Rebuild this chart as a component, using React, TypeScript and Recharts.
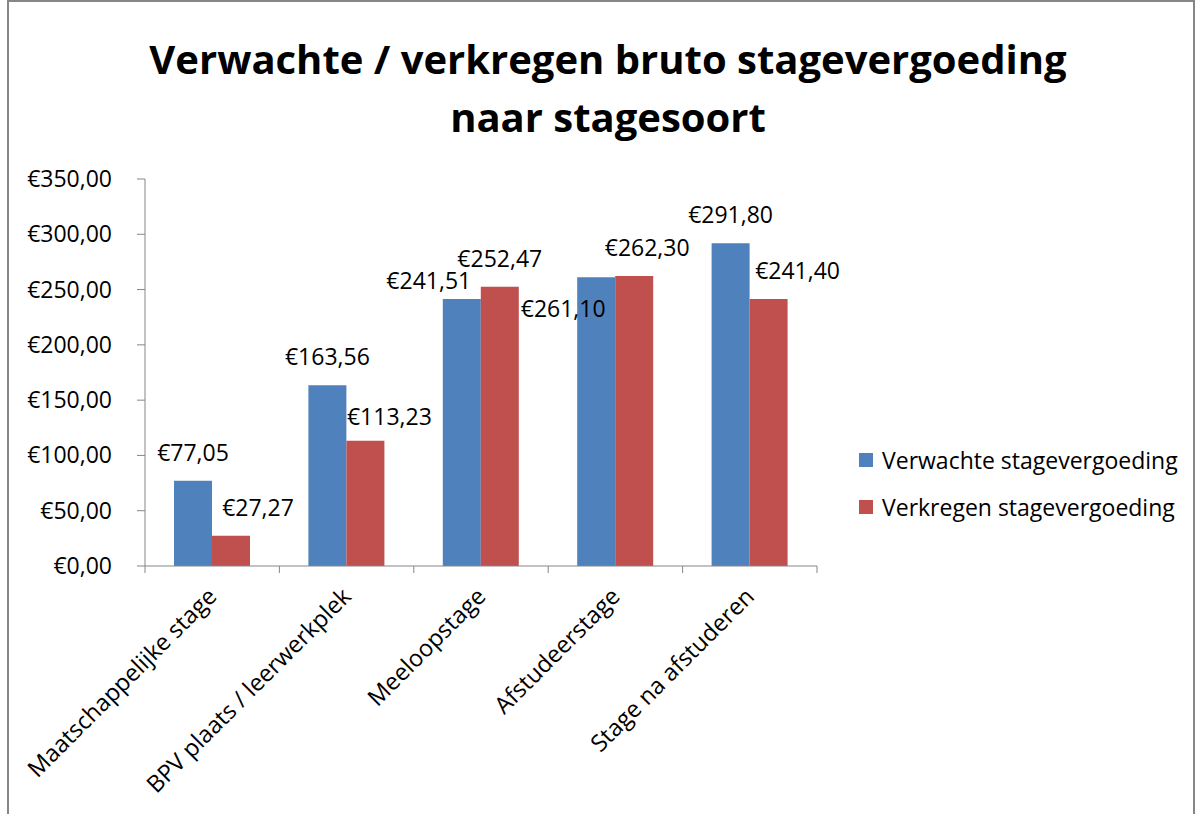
import React from "react";
import { BarChart, Bar, XAxis, YAxis, LabelList } from "recharts";

const categories = [
  "Maatschappelijke stage",
  "BPV plaats / leerwerkplek",
  "Meeloopstage",
  "Afstudeerstage",
  "Stage na afstuderen",
];
const verwachte = [77.05, 163.56, 241.51, 261.1, 291.8];
const verkregen = [27.27, 113.23, 252.47, 262.3, 241.4];
const yTicks = [0, 50, 100, 150, 200, 250, 300, 350];
const seriesNames = ["Verwachte stagevergoeding", "Verkregen stagevergoeding"];

// a few data labels were dragged by hand in the original, nudge them the same way
const blueNudge = [[0, 0], [0, 0], [-33, 10], [-33, 60], [0, 0]];
const redNudge = [[27, 0], [24, 4], [0, 0], [13, 0], [29, 0]];

const BLUE = "#4F81BD";
const RED = "#C0504D";
const AXIS = "#868686";
const FONT = "'Open Sans', sans-serif";

const PLOT_LEFT = 145;
const PLOT_RIGHT = 817;
const PLOT_TOP = 179;
const PLOT_BOTTOM = 566;
const band = (PLOT_RIGHT - PLOT_LEFT) / categories.length;

const data = categories.map((name, i) => ({
  name,
  verwachte: verwachte[i],
  verkregen: verkregen[i],
}));

const euro = (v: number) => "€" + v.toFixed(2).replace(".", ",");

const CatTick = (props: any) => {
  const { x, payload, index } = props;
  const tx = x + 6;
  const ty = PLOT_BOTTOM + 32;
  return (
    <g>
      <line x1={x - band / 2} x2={x - band / 2} y1={PLOT_BOTTOM} y2={PLOT_BOTTOM + 7} stroke={AXIS} />
      {index === categories.length - 1 && (
        <line x1={x + band / 2} x2={x + band / 2} y1={PLOT_BOTTOM} y2={PLOT_BOTTOM + 7} stroke={AXIS} />
      )}
      <text
        x={tx}
        y={ty}
        textAnchor="end"
        transform={`rotate(-45, ${tx}, ${ty})`}
        fontSize={23.5}
        fontFamily={FONT}
        fill="#000"
      >
        {payload.value}
      </text>
    </g>
  );
};

const ValTick = (props: any) => {
  const { y, payload } = props;
  return (
    <text x={112} y={y + 8} textAnchor="end" fontSize={23} fontFamily={FONT} fill="#000">
      {euro(payload.value)}
    </text>
  );
};

const makeLabel = (nudge: number[][]) => (p: any) => {
  const [dx, dy] = nudge[p.index] || [0, 0];
  return (
    <text
      x={p.x + p.width / 2 + dx}
      y={p.y - 20 + dy}
      textAnchor="middle"
      fontSize={23}
      fontFamily={FONT}
      fill="#000"
    >
      {euro(Number(p.value))}
    </text>
  );
};

export default function App() {
  return (
    <div style={{ position: "fixed", left: 0, top: 0, width: 1204, height: 814, background: "#fff", overflow: "hidden" }}>
      <div
        style={{
          position: "absolute",
          left: 7,
          top: 0,
          width: 1188,
          height: 830,
          border: `2px solid ${AXIS}`,
          boxSizing: "border-box",
        }}
      />
      <div
        style={{
          position: "absolute",
          left: 0,
          top: 30,
          width: 1216,
          textAlign: "center",
          fontFamily: FONT,
          fontWeight: 700,
          fontSize: 40,
          lineHeight: "58px",
          color: "#000",
        }}
      >
        Verwachte / verkregen bruto stagevergoeding
        <br />
        naar stagesoort
      </div>

      <div style={{ position: "absolute", left: 0, top: 0 }}>
        <BarChart
          width={1204}
          height={814}
          data={data}
          margin={{ top: PLOT_TOP, right: 1204 - PLOT_RIGHT, bottom: 0, left: 0 }}
          barCategoryGap={29}
          barGap={0}
        >
          <YAxis
            width={PLOT_LEFT}
            domain={[0, 350]}
            ticks={yTicks}
            interval={0}
            tickSize={8}
            stroke={AXIS}
            tickLine={{ stroke: AXIS }}
            tick={<ValTick />}
          />
          <XAxis
            dataKey="name"
            height={814 - PLOT_BOTTOM}
            interval={0}
            tickLine={false}
            stroke={AXIS}
            tick={<CatTick />}
          />
          <Bar dataKey="verwachte" name={seriesNames[0]} fill={BLUE} isAnimationActive={false}>
            <LabelList dataKey="verwachte" content={makeLabel(blueNudge)} />
          </Bar>
          <Bar dataKey="verkregen" name={seriesNames[1]} fill={RED} isAnimationActive={false}>
            <LabelList dataKey="verkregen" content={makeLabel(redNudge)} />
          </Bar>
        </BarChart>
      </div>

      <div style={{ position: "absolute", left: 859, top: 442, fontFamily: FONT, fontSize: 23, color: "#000" }}>
        {seriesNames.map((n, i) => (
          <div key={n} style={{ display: "flex", alignItems: "center", height: 35, marginBottom: 12 }}>
            <span
              style={{
                display: "inline-block",
                width: 14,
                height: 14,
                background: i === 0 ? BLUE : RED,
                marginRight: 9,
              }}
            />
            <span>{n}</span>
          </div>
        ))}
      </div>
    </div>
  );
}
